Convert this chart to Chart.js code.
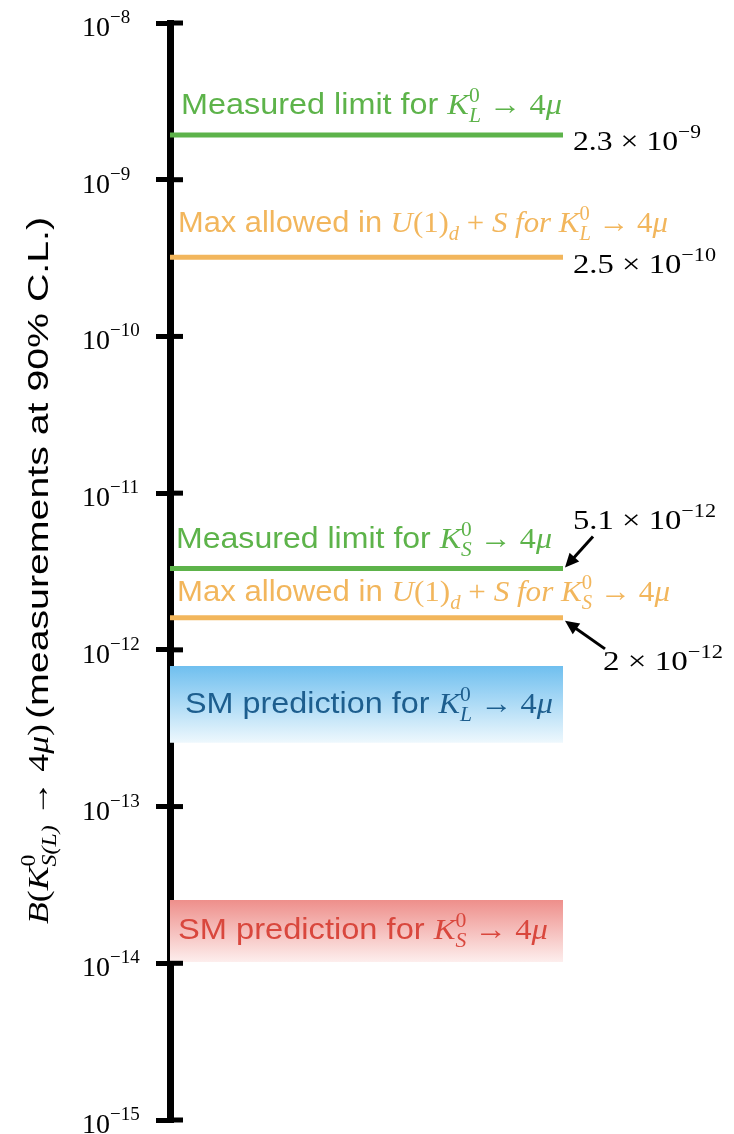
<!DOCTYPE html>
<html>
<head>
<meta charset="utf-8">
<script src="https://cdn.jsdelivr.net/npm/chart.js@4.4.1/dist/chart.umd.min.js"></script>
<style>
  html, body { margin: 0; padding: 0; background: #fff; }
  #wrap { width: 734px; height: 1134px; position: relative; }
</style>
</head>
<body>
<div id="wrap"><canvas id="chart"></canvas></div>
<script>
// ---- data ----
var yMin = 1e-15, yMax = 1e-8;
var tickExponents = [-8, -9, -10, -11, -12, -13, -14, -15];

// horizontal limit lines (value where the line is drawn)
var limitNames = ['KL measured', 'KL U(1)d+S', 'KS measured', 'KS U(1)d+S'];
var limitValues = [1.93e-9, 3.2e-10, 3.3e-12, 1.6e-12];
var limitMantissa = ['2.3', '2.5', '5.1', '2'];
var limitExponent = [-9, -10, -12, -12];

// SM prediction bands
var bandNames = ['SM KL', 'SM KS'];
var bandLow = [2.55e-13, 1.02e-14];
var bandHigh = [7.9e-13, 2.53e-14];

var GREEN = '#5db34a', ORANGE = '#f2b65c';
var BLUE_TXT = '#1d5e8e', RED_TXT = '#d9473d';
var SANS = '"Liberation Sans", Arial, sans-serif';
var SERIF = '"Liberation Serif", "Times New Roman", serif';
var limitColors = [GREEN, ORANGE, GREEN, ORANGE];

function flat(v) { return [{x: 0, y: v}, {x: 1, y: v}]; }

function bandGradient(i, top, bottom) {
  return function(c) {
    var chart = c.chart;
    if (!chart.chartArea) return top;
    var y = chart.scales.y;
    var g = chart.ctx.createLinearGradient(0, y.getPixelForValue(bandHigh[i]), 0, y.getPixelForValue(bandLow[i]));
    g.addColorStop(0, top);
    g.addColorStop(1, bottom);
    return g;
  };
}

var datasets = [];
// bands: upper edge, then lower edge filled to it
datasets.push({label: bandNames[0] + ' hi', data: flat(bandHigh[0]), borderWidth: 0, pointRadius: 0, fill: false});
datasets.push({label: bandNames[0] + ' lo', data: flat(bandLow[0]), borderWidth: 0, pointRadius: 0, fill: '-1',
  backgroundColor: bandGradient(0, '#6fbfef', '#eef8fd')});
datasets.push({label: bandNames[1] + ' hi', data: flat(bandHigh[1]), borderWidth: 0, pointRadius: 0, fill: false});
datasets.push({label: bandNames[1] + ' lo', data: flat(bandLow[1]), borderWidth: 0, pointRadius: 0, fill: '-1',
  backgroundColor: bandGradient(1, '#ee8f8b', '#fdeeed')});
limitValues.forEach(function(v, i) {
  datasets.push({label: limitNames[i], data: flat(v), borderColor: limitColors[i], borderWidth: 5,
    borderCapStyle: 'butt', pointRadius: 0, fill: false});
});

// ---- rich text helpers (sub/superscripts) ----
function T(t, f) { return {t: t, f: f}; }
function S(sup, sub, f, fsub) { return {sup: sup, sub: sub, f: f, fs: fsub || f}; }

function segWidth(ctx, s) {
  if (s.t !== undefined) { ctx.font = s.f; return ctx.measureText(s.t).width; }
  ctx.font = s.f; var a = s.sup ? ctx.measureText(s.sup).width : 0;
  ctx.font = s.fs; var b = s.sub ? ctx.measureText(s.sub).width : 0;
  return Math.max(a, b);
}

function drawRich(ctx, x, y, segs, color, targetW, up, down) {
  var w = 0;
  segs.forEach(function(s) { w += segWidth(ctx, s); });
  var k = targetW ? targetW / w : 1;
  ctx.save();
  ctx.translate(x, y);
  ctx.scale(k, 1);
  ctx.fillStyle = color;
  ctx.textBaseline = 'alphabetic';
  ctx.textAlign = 'left';
  var cx = 0;
  segs.forEach(function(s) {
    var sw = segWidth(ctx, s);
    if (s.t !== undefined) {
      ctx.font = s.f; ctx.fillText(s.t, cx, 0);
    } else {
      if (s.sup) { ctx.font = s.f; ctx.fillText(s.sup, cx, -up); }
      if (s.sub) { ctx.font = s.fs; ctx.fillText(s.sub, cx, down); }
    }
    cx += sw;
  });
  ctx.restore();
}

var sansA = '30px ' + SANS;
var serA = '30px ' + SERIF, itA = 'italic 30px ' + SERIF;
var serB = '20px ' + SERIF, itB = 'italic 20px ' + SERIF;

function kaon(sub) {
  return [T('K', itA), S('0', sub, serB, itB), T(' \u2192 4', serA), T('\u03bc', itA)];
}
function measured(sub) { return [T('Measured limit for ', sansA)].concat(kaon(sub)); }
function maxAllowed(sub) {
  return [T('Max allowed in ', sansA), T('U', itA), T('(1)', serA), S(null, 'd', serB, itB),
    T(' + ', serA), T('S for ', itA)].concat(kaon(sub));
}
function smPred(sub) { return [T('SM prediction for ', sansA)].concat(kaon(sub)); }

function arrow(ctx, x1, y1, x2, y2) {
  var a = Math.atan2(y2 - y1, x2 - x1), h = 14;
  ctx.save();
  ctx.strokeStyle = '#000'; ctx.fillStyle = '#000'; ctx.lineWidth = 3;
  ctx.beginPath(); ctx.moveTo(x1, y1);
  ctx.lineTo(x2 - Math.cos(a) * h * 0.8, y2 - Math.sin(a) * h * 0.8); ctx.stroke();
  ctx.beginPath(); ctx.moveTo(x2, y2);
  ctx.lineTo(x2 - h * Math.cos(a) + 6.5 * Math.sin(a), y2 - h * Math.sin(a) - 6.5 * Math.cos(a));
  ctx.lineTo(x2 - h * Math.cos(a) - 6.5 * Math.sin(a), y2 - h * Math.sin(a) + 6.5 * Math.cos(a));
  ctx.closePath(); ctx.fill();
  ctx.restore();
}

function valueLabel(ctx, x, y, i, w) {
  drawRich(ctx, x, y, [T(limitMantissa[i] + ' \u00d7 10', '28px ' + SERIF),
    S('\u2212' + (-limitExponent[i]), null, '19px ' + SERIF)], '#000', w, 12, 0);
}

var overlay = {
  id: 'overlay',
  afterDraw: function(chart) {
    var ctx = chart.ctx, ys = chart.scales.y, xs = chart.scales.x;
    var xL = xs.getPixelForValue(0), xR = xs.getPixelForValue(1);

    // inner halves of the major ticks + tick labels
    tickExponents.forEach(function(e) {
      var py = ys.getPixelForValue(Math.pow(10, e));
      ctx.fillStyle = '#000';
      ctx.fillRect(xL, py - 2.5, 13, 5);
      drawRich(ctx, 82, py + 13, [T('10', '28px ' + SERIF), S('\u2212' + (-e), null, '19px ' + SERIF)], '#000', 0, 13, 0);
    });

    var p = limitValues.map(function(v) { return ys.getPixelForValue(v); });
    drawRich(ctx, 181, p[0] - 21, measured('L'), GREEN, 381, 12, 8);
    drawRich(ctx, 178, p[1] - 25, maxAllowed('L'), ORANGE, 490, 12, 8);
    drawRich(ctx, 176, p[2] - 21, measured('S'), GREEN, 376, 12, 8);
    drawRich(ctx, 177, p[3] - 17, maxAllowed('S'), ORANGE, 493, 12, 8);

    var b0 = (ys.getPixelForValue(bandLow[0]) + ys.getPixelForValue(bandHigh[0])) / 2;
    var b1 = (ys.getPixelForValue(bandLow[1]) + ys.getPixelForValue(bandHigh[1])) / 2;
    drawRich(ctx, 185, b0 + 9, smPred('L'), BLUE_TXT, 368, 12, 8);
    drawRich(ctx, 178, b1 + 8, smPred('S'), RED_TXT, 370, 12, 8);

    valueLabel(ctx, xR + 10, p[0] + 15, 0, 128);
    valueLabel(ctx, xR + 10, p[1] + 16, 1, 143);
    valueLabel(ctx, xR + 10, p[2] - 40, 2, 143);
    valueLabel(ctx, xR + 40, p[3] + 52, 3, 120);
    arrow(ctx, xR + 30, p[2] - 32, xR + 2, p[2] - 1);
    arrow(ctx, xR + 42, p[3] + 31, xR + 2, p[3] + 3);

    // y-axis title, rotated
    ctx.save();
    ctx.translate(48, 924);
    ctx.rotate(-Math.PI / 2);
    drawRich(ctx, 0, 0, [T('B', itA), T('(', serA), T('K', itA), S('0', 'S(L)', '20px ' + SERIF, 'italic 20px ' + SERIF),
      T(' \u2192 4', serA), T('\u03bc', itA), T(')', serA)], '#000', 200, 13, 8);
    drawRich(ctx, 205, 0, [T('(measurements at 90% C.L.)', '29px ' + SANS)], '#000', 502, 0, 0);
    ctx.restore();
  }
};

new Chart(document.getElementById('chart'), {
  type: 'line',
  data: {datasets: datasets},
  options: {
    responsive: true,
    maintainAspectRatio: false,
    animation: false,
    layout: {padding: {left: 156, right: 171, top: 23, bottom: 14}},
    plugins: {legend: {display: false}, tooltip: {enabled: false}},
    scales: {
      x: {type: 'linear', min: 0, max: 1, display: false},
      y: {
        type: 'logarithmic', min: yMin, max: yMax, position: 'left', z: 1,
        afterBuildTicks: function(s) {
          s.ticks = tickExponents.map(function(e) { return {value: Math.pow(10, e)}; });
        },
        ticks: {display: false},
        grid: {drawOnChartArea: false, drawTicks: true, tickLength: 14, tickWidth: 5, lineWidth: 5, tickColor: '#000', color: '#000'},
        border: {display: true, width: 7, color: '#000'}
      }
    }
  },
  plugins: [overlay]
});
</script>
</body>
</html>
